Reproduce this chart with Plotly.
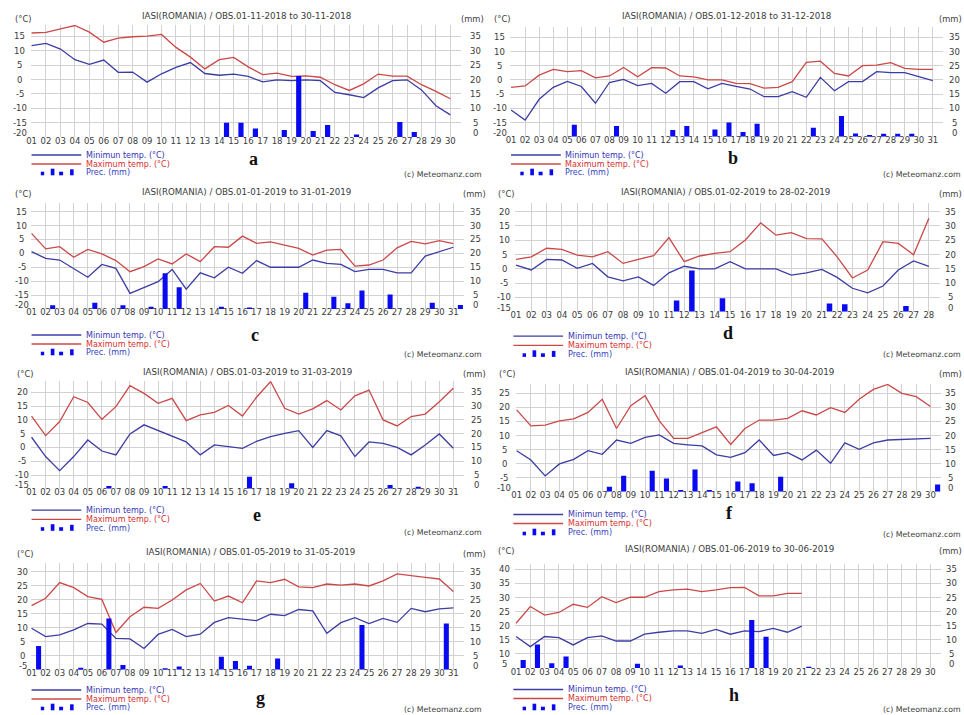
import plotly.graph_objects as go

FIG_W, FIG_H = 964, 715

# ---------------- daily observations, Iasi (°C, mm) ----------------
title_a = "IASI(ROMANIA) / OBS.01-11-2018 to 30-11-2018"
ndays_a = 30
tmin_a = [11.8, 12.6, 10.6, 6.9, 5.3, 6.8, 2.5, 2.6, -0.9, 2.0, 4.2, 5.9, 2.1, 1.5, 1.9,
          1.1, -0.8, -0.1, -0.4, -0.1, -0.4, -4.5, -5.3, -6.3, -2.9, -0.4, -0.1, -3.6, -9.1, -12.3]
tmax_a = [16.2, 16.4, 17.6, 18.8, 16.5, 13.0, 14.4, 14.9, 15.1, 15.7, 11.2, 7.8, 3.7, 6.9, 7.7,
          4.4, 1.7, 2.2, 1.1, 1.3, 0.8, -1.8, -3.8, -1.5, 1.9, 1.2, 1.2, -1.8, -4.1, -6.7]
pday_a = [14, 15, 16, 18, 19, 20, 21, 23, 26, 27]
prec_a = [5.0, 5.0, 3.0, 2.4, 21.2, 2.1, 4.2, 0.9, 5.2, 1.7]

title_b = "IASI(ROMANIA) / OBS.01-12-2018 to 31-12-2018"
ndays_b = 31
tmin_b = [-10.6, -14.1, -6.8, -2.6, -0.5, -2.3, -8.2, -0.9, 0.2, -2.0, -1.2, -4.7, -0.6, -0.6, -3.1,
          -1.2, -2.3, -3.2, -5.9, -5.9, -4.1, -6.1, 0.9, -3.8, -0.6, -0.6, 2.9, 2.6, 2.6, 1.2, -0.2]
tmax_b = [-2.6, -2.1, 1.7, 3.7, 2.9, 3.3, 0.7, 1.4, 4.4, 1.1, 4.3, 4.2, 1.4, 1.1, 0.0,
          0.0, -1.2, -1.3, -2.9, -2.6, -0.6, 6.2, 6.6, 2.3, 1.4, 5.0, 5.2, 6.1, 4.1, 3.7, 3.7]
pday_b = [5, 8, 12, 13, 15, 16, 17, 18, 22, 24, 25, 26, 27, 28, 29]
prec_b = [4.2, 3.8, 2.4, 3.8, 2.6, 5.0, 1.7, 4.6, 3.2, 7.3, 1.2, 0.6, 1.1, 1.1, 1.1]

title_c = "IASI(ROMANIA) / OBS.01-01-2019 to 31-01-2019"
ndays_c = 31
tmin_c = [0.6, -1.8, -2.4, -5.5, -8.6, -4.0, -5.4, -14.4, -12.4, -10.2, -5.8, -12.9, -7.0, -8.8, -5.0,
          -7.2, -2.6, -5.0, -5.0, -5.0, -2.4, -3.6, -4.0, -6.6, -5.8, -5.8, -7.0, -7.0, -1.0, 0.6, 2.2]
tmax_c = [7.2, 1.6, 2.4, -1.4, 1.4, -0.2, -2.6, -6.6, -4.8, -2.0, -3.8, -0.2, -3.0, 2.4, 2.2,
          6.2, 3.6, 4.1, 3.0, 1.8, -0.6, 1.2, 1.4, -4.6, -4.2, -2.4, 2.0, 4.3, 3.4, 4.6, 3.5]
pday_c = [2, 5, 7, 9, 10, 11, 14, 16, 20, 22, 23, 24, 26, 29, 31]
prec_c = [1.3, 2.2, 1.3, 0.8, 12.8, 7.8, 0.8, 0.4, 5.8, 4.4, 2.0, 6.6, 5.2, 2.2, 1.4]

title_d = "IASI(ROMANIA) / OBS.01-02-2019 to 28-02-2019"
ndays_d = 28
tmin_d = [1.3, -0.4, 3.3, 3.1, 0.2, 1.9, -2.8, -4.2, -2.8, -5.8, -1.4, 0.9, 0.0, 0.0,
          2.5, 0.0, 0.0, 0.0, -2.2, -1.4, -0.2, -3.0, -6.8, -8.4, -6.0, -0.4, 2.8, 0.9]
tmax_d = [3.3, 4.2, 7.2, 6.8, 4.8, 4.2, 6.0, 1.9, 3.3, 4.6, 10.9, 2.5, 4.5, 5.4,
          6.0, 10.1, 16.1, 11.8, 12.7, 10.6, 10.5, 4.2, -3.2, -0.4, 9.5, 8.9, 4.9, 17.7]
pday_d = [11, 12, 14, 21, 22, 26]
prec_d = [3.9, 14.4, 4.7, 2.9, 2.6, 2.0]

title_e = "IASI(ROMANIA) / OBS.01-03-2019 to 31-03-2019"
ndays_e = 31
tmin_e = [3.7, -3.3, -8.4, -3.3, 2.7, -1.3, -2.7, 4.9, 8.2, 6.1, 4.2, 2.0, -2.7, 0.9, 0.3,
          -0.3, 2.2, 3.9, 5.1, 6.1, 0.0, 6.1, 4.2, -3.3, 2.0, 1.5, 0.0, -2.7, 0.9, 4.9, -0.3]
tmax_e = [11.4, 4.3, 9.4, 18.4, 16.3, 10.2, 14.8, 22.4, 19.6, 16.0, 17.8, 9.7, 11.8, 12.7, 15.2,
          11.4, 18.2, 23.9, 14.2, 12.1, 14.0, 17.0, 13.6, 18.7, 20.8, 10.0, 7.8, 11.2, 12.1, 16.6, 21.5]
pday_e = [6, 10, 16, 19, 26, 28]
prec_e = [1.0, 1.0, 4.4, 2.0, 1.4, 0.7]

title_f = "IASI(ROMANIA) / OBS.01-04-2019 to 30-04-2019"
ndays_f = 30
tmin_f = [4.6, 1.3, -4.4, -0.1, 1.5, 4.6, 3.3, 8.4, 7.2, 9.3, 10.2, 7.2, 6.7, 6.3, 3.1,
          2.2, 3.9, 8.4, 2.9, 3.9, 1.3, 4.8, 0.1, 7.4, 5.1, 7.4, 8.4, 8.6, 8.6, 9.0]
tmax_f = [19.1, 13.4, 13.7, 15.2, 15.9, 18.2, 22.9, 12.5, 20.6, 24.2, 15.2, 9.0, 9.0, 11.0, 13.1,
          6.8, 12.5, 15.5, 15.5, 16.1, 18.8, 17.3, 19.9, 18.2, 22.9, 26.4, 28.2, 25.0, 23.8, 20.3]
pday_f = [7, 8, 10, 11, 12, 13, 14, 16, 17, 19, 30]
prec_f = [1.8, 5.7, 7.5, 4.7, 0.6, 7.9, 0.6, 3.6, 3.0, 5.3, 2.6]

title_g = "IASI(ROMANIA) / OBS.01-05-2019 to 31-05-2019"
ndays_g = 31
tmin_g = [9.8, 6.8, 7.4, 9.2, 11.5, 11.3, 6.2, 6.0, 2.6, 7.6, 9.4, 6.8, 7.7, 11.9, 13.6,
          13.1, 12.5, 14.8, 14.3, 16.5, 16.0, 8.0, 11.8, 13.6, 11.5, 13.3, 11.9, 16.9, 15.7, 16.7, 17.1]
tmax_g = [17.9, 20.5, 26.1, 24.3, 21.1, 20.1, 8.3, 13.9, 17.3, 16.9, 19.9, 23.5, 25.8, 19.5, 21.3,
          18.9, 26.7, 26.1, 27.3, 24.6, 24.3, 25.6, 25.2, 25.6, 24.9, 26.7, 29.2, 28.5, 28.0, 27.4, 22.9]
pday_g = [1, 4, 6, 7, 10, 11, 14, 15, 16, 18, 24, 30]
prec_g = [8.5, 0.7, 18.3, 1.7, 0.5, 1.1, 4.6, 3.1, 1.4, 4.0, 16.0, 16.5]

title_h = "IASI(ROMANIA) / OBS.01-06-2019 to 30-06-2019"
ndays_h = 30
tmin_h = [16.2, 12.6, 16.2, 15.8, 13.2, 15.8, 16.4, 14.6, 14.6, 17.0, 17.7,
          18.2, 18.2, 17.3, 18.7, 17.0, 18.2, 17.9, 19.1, 17.7, 19.9]
tmax_h = [20.9, 26.8, 23.8, 24.7, 27.6, 26.5, 30.3, 28.2, 30.1, 30.1, 32.1,
          32.7, 33.0, 32.1, 32.7, 33.5, 33.6, 30.6, 30.6, 31.5, 31.5]
pday_h = [1, 2, 3, 4, 9, 12, 17, 18, 21]
prec_h = [2.9, 8.4, 1.7, 4.1, 1.5, 0.9, 17.0, 11.1, 0.3]

legend_labels = ["Minimun temp. (°C)", "Maximum temp. (°C)", "Prec. (mm)"]
letters = ["a", "b", "c", "d", "e", "f", "g", "h"]

# ---------------- styling ----------------
C_MIN = "#3c3ca4"
C_MAX = "#cc4848"
C_PREC = "#0a0af0"
C_GRID = "#d2d2d2"
C_TXT = "#3a3a3a"
TICK_FONT = dict(family="DejaVu Sans", size=8.5, color=C_TXT)

# panel geometry in pixels: x of day 1, px per day, y of plot bottom, px per °C,
# lowest/highest °C of the left scale, offset between mm and °C scales,
# and where the surrounding texts sit
geom = [
    dict(day1=26.7, ppd=14.517, ybot=137.0, ppu=2.873, lo=-20, hi=19.0, off=20,
         lx=15.0, rx=473.3, ty=15.7, tx=242.5, cy=19.0, cx=18.0, mx=470.0,
         leg=(26.7, 155.0, 164.0, 172.7), let=(250.0, 159.0), cr=(481.0, 174.0)),
    dict(day1=508.7, ppd=14.133, ybot=136.8, ppu=2.843, lo=-20, hi=18.6, off=20,
         lx=497.3, rx=954.5, ty=15.7, tx=725.0, cy=19.0, cx=500.0, mx=950.0,
         leg=(508.7, 155.0, 164.0, 172.7), let=(732.0, 158.0), cr=(963.0, 174.0)),
    dict(day1=26.7, ppd=14.133, ybot=308.9, ppu=2.777, lo=-20, hi=18.3, off=20,
         lx=17.0, rx=473.3, ty=191.7, tx=243.0, cy=194.3, cx=18.0, mx=472.0,
         leg=(26.7, 335.0, 344.0, 352.7), let=(251.7, 335.0), cr=(481.0, 354.0)),
    dict(day1=513.7, ppd=15.37, ybot=311.7, ppu=2.857, lo=-15, hi=23.2, off=15,
         lx=502.0, rx=950.3, ty=192.3, tx=724.5, cy=194.3, cx=504.0, mx=950.0,
         leg=(511.0, 336.2, 345.4, 354.3), let=(727.0, 333.3), cr=(963.0, 355.0)),
    dict(day1=26.7, ppd=14.133, ybot=488.8, ppu=2.757, lo=-15, hi=24.0, off=15,
         lx=17.2, rx=474.0, ty=372.3, tx=243.7, cy=374.3, cx=20.0, mx=472.0,
         leg=(26.7, 510.2, 519.3, 528.2), let=(253.3, 515.0), cr=(481.0, 532.3)),
    dict(day1=514.3, ppd=14.345, ybot=491.7, ppu=2.81, lo=-10, hi=28.5, off=10,
         lx=502.0, rx=950.0, ty=372.3, tx=728.3, cy=374.3, cx=505.0, mx=950.0,
         leg=(511.0, 514.5, 523.5, 532.7), let=(728.7, 513.3), cr=(963.0, 534.0)),
    dict(day1=26.7, ppd=14.133, ybot=669.7, ppu=2.8, lo=-5, hi=33.0, off=5,
         lx=18.0, rx=472.5, ty=551.7, tx=246.7, cy=554.0, cx=20.0, mx=472.0,
         leg=(26.7, 690.0, 699.0, 707.7), let=(256.7, 698.3), cr=(481.0, 709.0)),
    dict(day1=513.7, ppd=14.36, ybot=668.1, ppu=2.823, lo=5, hi=42.0, off=-5,
         lx=502.0, rx=951.0, ty=549.3, tx=728.0, cy=550.7, cx=504.0, mx=950.0,
         leg=(511.0, 689.5, 698.5, 707.7), let=(732.7, 695.0), cr=(963.0, 709.0)),
]

series = [
    (title_a, ndays_a, tmin_a, tmax_a, pday_a, prec_a),
    (title_b, ndays_b, tmin_b, tmax_b, pday_b, prec_b),
    (title_c, ndays_c, tmin_c, tmax_c, pday_c, prec_c),
    (title_d, ndays_d, tmin_d, tmax_d, pday_d, prec_d),
    (title_e, ndays_e, tmin_e, tmax_e, pday_e, prec_e),
    (title_f, ndays_f, tmin_f, tmax_f, pday_f, prec_f),
    (title_g, ndays_g, tmin_g, tmax_g, pday_g, prec_g),
    (title_h, ndays_h, tmin_h, tmax_h, pday_h, prec_h),
]


def px(x):
    return x / FIG_W


def py(y):
    return 1 - y / FIG_H


fig = go.Figure()
layout = dict(width=FIG_W, height=FIG_H, margin=dict(l=0, r=0, t=0, b=0),
              paper_bgcolor="white", plot_bgcolor="white", showlegend=False,
              barmode="overlay")
annotations = []
shapes = []


def text(x, y, s, size=8.5, color=C_TXT, xanchor="center", family="DejaVu Sans", **kw):
    annotations.append(dict(x=px(x), y=py(y), xref="paper", yref="paper", text=s,
                            showarrow=False, xanchor=xanchor, yanchor="middle",
                            font=dict(family=family, size=size, color=color), **kw))


for i, ((title, nd, tmin, tmax, pday, prec), g) in enumerate(zip(series, geom)):
    k = i + 1
    xname = "x" if k == 1 else f"x{k}"
    y1n, y2n = 2 * k - 1, 2 * k
    y1 = "y" if y1n == 1 else f"y{y1n}"
    y2 = f"y{y2n}"
    days = list(range(1, nd + 1))
    xlo, xhi = 0.95, nd + 0.75
    left = g["day1"] + (xlo - 1) * g["ppd"]
    right = g["day1"] + (xhi - 1) * g["ppd"]
    top = g["ybot"] - (g["hi"] - g["lo"]) * g["ppu"]

    layout["xaxis" if k == 1 else f"xaxis{k}"] = dict(
        domain=[px(left), px(right)], range=[xlo, xhi], anchor=y1,
        tickvals=days, ticktext=[f"{d:02d}" for d in days], tickfont=TICK_FONT,
        ticks="", ticklabelstandoff=-3, showgrid=True, gridcolor=C_GRID, gridwidth=1,
        zeroline=False, showline=False, fixedrange=True)
    yticks = list(range(g["lo"], int(g["hi"]) + 1, 5))
    layout["yaxis" if y1n == 1 else f"yaxis{y1n}"] = dict(
        domain=[py(g["ybot"]), py(top)], range=[g["lo"], g["hi"]], anchor=xname,
        tickvals=yticks, showticklabels=False, ticks="", showgrid=True,
        gridcolor=C_GRID, gridwidth=1, zeroline=False, showline=False)
    layout[f"yaxis{y2n}"] = dict(
        overlaying=y1, side="right", anchor=xname,
        range=[g["lo"] + g["off"], g["hi"] + g["off"]],
        showticklabels=False, ticks="", showgrid=False, zeroline=False, showline=False)

    # temperature lines and precipitation bars (bars sit between days)
    fig.add_trace(go.Scatter(x=days[:len(tmin)], y=tmin, mode="lines",
                             line=dict(color=C_MIN, width=1.3), xaxis=xname, yaxis=y1))
    fig.add_trace(go.Scatter(x=days[:len(tmax)], y=tmax, mode="lines",
                             line=dict(color=C_MAX, width=1.3), xaxis=xname, yaxis=y1))
    fig.add_trace(go.Bar(x=[d + 0.5 for d in pday], y=prec, width=0.36,
                         marker=dict(color=C_PREC, line=dict(width=0)),
                         xaxis=xname, yaxis=y2))

    # scale labels, centred on their ticks; the lowest one is lifted a little
    for v in yticks:
        annotations.append(dict(x=px(g["lx"]), y=v, xref="paper", yref=y1, text=str(v),
                                showarrow=False, xanchor="center", yanchor="middle",
                                yshift=4 if v == g["lo"] else 0, font=TICK_FONT))
    for v in range(0, 36, 5):
        annotations.append(dict(x=px(g["rx"]), y=v, xref="paper", yref=y2, text=str(v),
                                showarrow=False, xanchor="center", yanchor="middle",
                                yshift=4 if v == 0 else 0, font=TICK_FONT))

    text(g["tx"], g["ty"], title, size=8.7)
    text(g["cx"], g["cy"], "(°C)", size=8.3)
    text(g["mx"], g["cy"], "(mm)", size=8.3)
    text(g["cr"][0], g["cr"][1], "(c) Meteomanz.com", size=7.8, xanchor="right")
    text(g["let"][0], g["let"][1], f"<b>{letters[i]}</b>", size=18,
         color="#111111", family="Liberation Serif")

    # legend block
    lx0, ymn, ymx, ypr = g["leg"]
    for yy, col in ((ymn, C_MIN), (ymx, C_MAX)):
        shapes.append(dict(type="line", xref="paper", yref="paper",
                           x0=px(lx0), x1=px(lx0 + 50), y0=py(yy), y1=py(yy),
                           line=dict(color=col, width=1.3)))
    for dx0, dx1, hgt in ((9.3, 12.7, 3.6), (19.3, 23.0, 6.6), (27.7, 31.7, 3.6), (38.7, 42.3, 6.0)):
        shapes.append(dict(type="rect", xref="paper", yref="paper",
                           x0=px(lx0 + dx0), x1=px(lx0 + dx1),
                           y0=py(ypr + 2.6), y1=py(ypr + 2.6 - hgt),
                           fillcolor=C_PREC, line=dict(width=0)))
    text(lx0 + 52.5, ymn, legend_labels[0], size=8.0, color="#3333b4", xanchor="left")
    text(lx0 + 52.5, ymx, legend_labels[1], size=8.0, color="#d43030", xanchor="left")
    text(lx0 + 52.5, ypr, legend_labels[2], size=8.0, color="#3344c4", xanchor="left")

layout["annotations"] = annotations
layout["shapes"] = shapes
fig.update_layout(**layout)
fig.write_html("out.html")
